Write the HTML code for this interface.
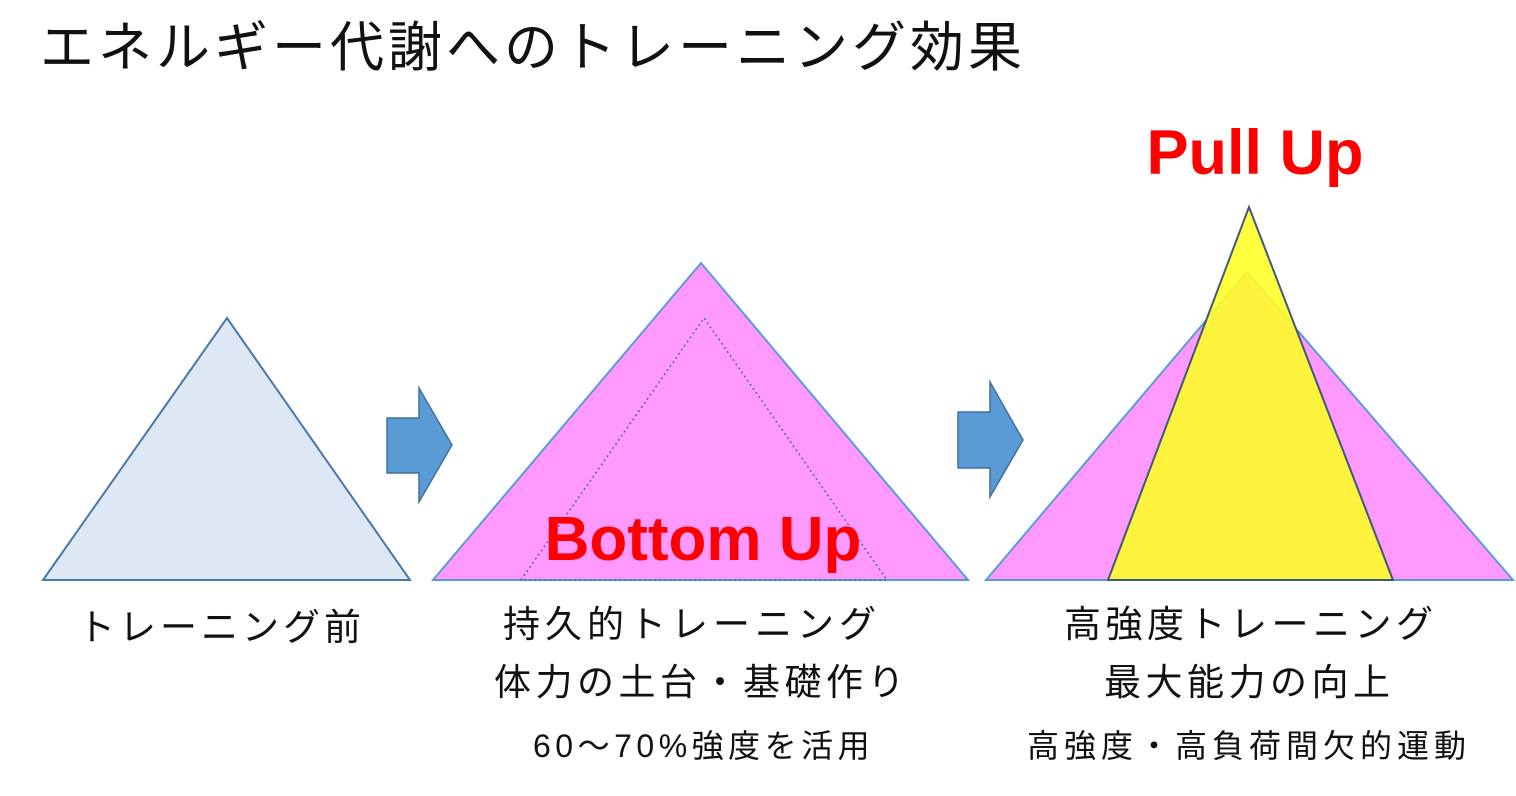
<!DOCTYPE html>
<html><head><meta charset="utf-8"><style>
body{margin:0;background:#fff;width:1516px;height:796px;overflow:hidden;position:relative;font-family:"Liberation Sans","Noto Sans CJK JP",sans-serif;}
.t{position:absolute;white-space:nowrap;color:#111;line-height:1;}
</style></head><body>
<svg width="1516" height="796" style="position:absolute;left:0;top:0">
<polygon points="43,580 227,318 410,580" fill="#dee8f4" stroke="#4a76a8" stroke-width="2"/>
<polygon points="387,418 419,418 419,388 452,445 419,502 419,473 387,473" fill="#5b9bd5" stroke="#41719c" stroke-width="1.5"/>
<polygon points="433,580 701,263 968,580" fill="#ff99ff" stroke="#5b9bd5" stroke-width="2"/>
<polygon points="521,580 704,318 887,580" fill="none" stroke="#4a6aa8" stroke-width="1.5" stroke-dasharray="2,3"/>
<polygon points="958,412 990,412 990,382 1023,440 990,497 990,468 958,468" fill="#5b9bd5" stroke="#41719c" stroke-width="1.5"/>
<polygon points="986,580 1247,272 1513,580" fill="#ff99ff" stroke="#5b9bd5" stroke-width="2"/>
<polygon points="1108,580 1249,207 1393,580" fill="#ffff22" fill-opacity="0.88" stroke="#3c5a7a" stroke-width="2"/>
<text x="703" y="560" text-anchor="middle" font-family="Liberation Sans" font-weight="bold" font-size="62" fill="#ff0000">Bottom Up</text>
<text x="1255" y="174" text-anchor="middle" font-family="Liberation Sans" font-weight="bold" font-size="63" fill="#ff0000">Pull Up</text>
</svg>
<div class="t" style="left:40px;top:21px;font-size:54px;letter-spacing:4px;">エネルギー代謝へのトレーニング効果</div>
<div class="t" style="left:78px;top:609px;font-size:37px;letter-spacing:4px;">トレーニング前</div>
<div class="t" style="left:503px;top:606px;font-size:37px;letter-spacing:5px;">持久的トレーニング</div>
<div class="t" style="left:494px;top:664px;font-size:37px;letter-spacing:4.5px;">体力の土台・基礎作り</div>
<div class="t" style="left:533px;top:730px;font-size:32px;letter-spacing:4.5px;">60～70%強度を活用</div>
<div class="t" style="left:1064px;top:606px;font-size:37px;letter-spacing:4.5px;">高強度トレーニング</div>
<div class="t" style="left:1104px;top:664px;font-size:37px;letter-spacing:4.5px;">最大能力の向上</div>
<div class="t" style="left:1027px;top:730px;font-size:32px;letter-spacing:5px;">高強度・高負荷間欠的運動</div>
</body></html>
